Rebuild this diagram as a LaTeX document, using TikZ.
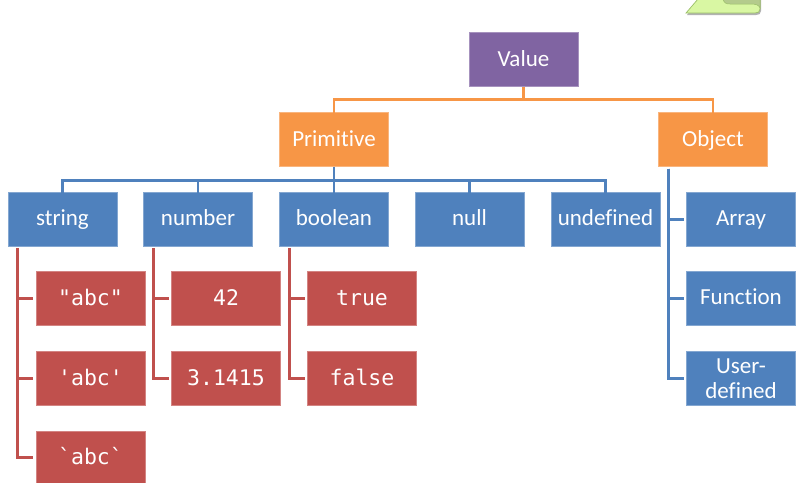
\documentclass[tikz,border=0pt]{standalone}
\usepackage{fontspec}
\setmainfont[RawFeature={-liga;-clig;-dlig}]{Carlito}
\newfontfamily\codefont{DejaVu Sans Mono}
\usetikzlibrary{calc}
\definecolor{cpurple}{HTML}{8064A2}
\definecolor{corange}{HTML}{F79646}
\definecolor{cblue}{HTML}{4F81BD}
\definecolor{cred}{HTML}{C0504D}
\definecolor{gleaf}{HTML}{D9F7A3}
\definecolor{gfold}{HTML}{B4CB8C}
\definecolor{gedge}{HTML}{9CBF6A}
\tikzset{
  x=1pt,y=-1pt,
  boxbase/.style={rectangle,inner sep=0pt,outer sep=0pt,minimum width=109pt,minimum height=54pt,text=white,align=center,font=\fontsize{23}{25}\selectfont,line width=0.5pt},
  purplebox/.style={boxbase,fill=cpurple,draw=cpurple!70!white},
  orangebox/.style={boxbase,fill=corange,draw=corange!70!white},
  bluebox/.style={boxbase,fill=cblue,draw=cblue!70!white},
  redbox/.style={boxbase,fill=cred,draw=cred!70!white,font=\codefont\fontsize{21.5}{24}\selectfont},
  oneline/.style={text height=16pt,text depth=3pt},
  codeline/.style={text height=16pt,text depth=2pt},
  orangeline/.style={draw=corange,line width=2.6pt},
  blueline/.style={draw=cblue,line width=2.6pt},
  redline/.style={draw=cred,line width=3pt,shorten >=3pt,shorten <=2pt},
  stemblue/.style={draw=cblue,line width=3pt,shorten >=3pt,shorten <=2pt},
}
\begin{document}
\begin{tikzpicture}
\useasboundingbox (0,0) rectangle (808,482);
% green fragment at the top edge
\fill[black!30] (687,15) -- (699,0) -- (761,0) -- (761,11) .. controls (761,14) and (759,15) .. (756,15) -- cycle;
\filldraw[fill=gleaf,draw=gedge,line width=0.7pt] (686,13) -- (698,-1) -- (760,-1) -- (760,9) .. controls (760,12) and (758,13) .. (755,13) -- cycle;
\filldraw[fill=gfold,draw=gedge,line width=0.5pt] (723,-1) .. controls (724,3) and (726,4) .. (730,4) -- (750,4) .. controls (756,4) and (759,5) .. (760,8) -- (760,-1) -- cycle;
% nodes
\node[purplebox,oneline] (value) at (523.5,59.5) {Value};
\node[orangebox,oneline] (primitive) at (334,139.5) {Primitive};
\node[orangebox,oneline] (object) at (713,139.5) {Object};
\node[bluebox,oneline] (string) at (62.5,219) {string};
\node[bluebox,oneline] (number) at (198,219) {number};
\node[bluebox,oneline] (boolean) at (334,219) {boolean};
\node[bluebox,oneline] (null) at (469.5,219) {null};
\node[bluebox,oneline] (undefined) at (605.5,219) {undefined};
\node[bluebox,oneline] (array) at (741,219) {Array};
\node[bluebox,oneline] (function) at (741,298) {Function};
\node[bluebox] (user) at (741,378) {\rule{0pt}{17pt}User-\\defined};
\node[redbox,codeline] (dq) at (90.5,298) {"abc"};
\node[redbox,codeline] (sq) at (90.5,378) {'abc'};
\node[redbox,minimum height=56pt] (bq) at (90.5,459) {};
\node[text=white,inner sep=0pt,codeline,font=\codefont\fontsize{21.5}{24}\selectfont] (bqtext) at (90.5,457) {`abc`};
\node[redbox,codeline] (n42) at (226,298) {42};
\node[redbox,codeline] (pi) at (226,378) {3.1415};
\node[redbox,codeline] (true) at (362,298) {true};
\node[redbox,codeline] (false) at (362,378) {false};
% orange connectors
\draw[orangeline] (value.south) -- ++(0,13) coordinate (obus);
\draw[orangeline] (obus) -| ([yshift=-1pt]primitive.north);
\draw[orangeline] (obus) -| ([yshift=-1pt]object.north);
% blue tree connectors
\path (primitive.south) ++(0,14) coordinate (bbus);
\draw[blueline] (primitive.south) -- (bbus);
\draw[blueline] (bbus) -| ([yshift=-2pt]string.north);
\draw[blueline] (bbus) -| ([yshift=-2pt]number.north);
\draw[blueline] (bbus) -| ([yshift=-2pt]boolean.north);
\draw[blueline] (bbus) -| ([yshift=-2pt]null.north);
\draw[blueline] (bbus) -| ([yshift=-2pt]undefined.north);
% red connectors
\draw[redline] ([xshift=9.5pt]string.south west) |- (dq.west);
\draw[redline] ([xshift=9.5pt]string.south west) |- (sq.west);
\draw[redline] ([xshift=9.5pt]string.south west) |- (bqtext.west -| bq.west);
\draw[redline] ([xshift=9.5pt]number.south west) |- (n42.west);
\draw[redline] ([xshift=9.5pt]number.south west) |- (pi.west);
\draw[redline] ([xshift=9.5pt]boolean.south west) |- (true.west);
\draw[redline] ([xshift=9.5pt]boolean.south west) |- (false.west);
% object connectors
\draw[stemblue] ([xshift=9.5pt]object.south west) |- (array.west);
\draw[stemblue] ([xshift=9.5pt]object.south west) |- (function.west);
\draw[stemblue] ([xshift=9.5pt]object.south west) |- (user.west);
\end{tikzpicture}
\end{document}
